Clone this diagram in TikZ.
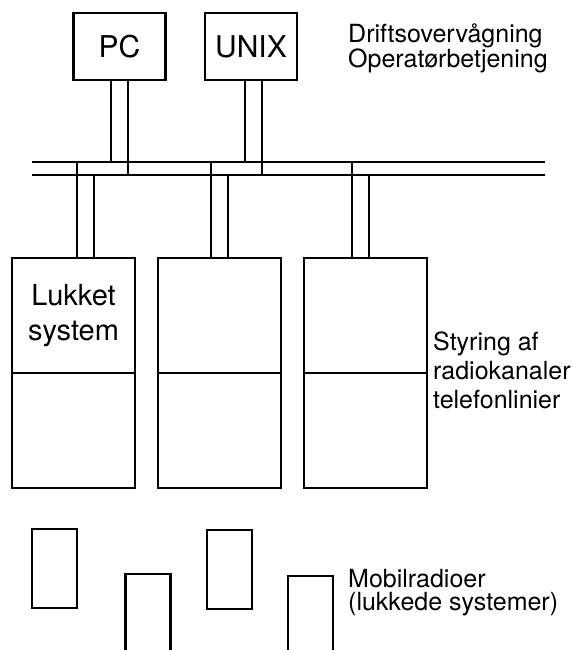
\documentclass[tikz,border=0pt]{standalone}
\usepackage{fontspec}
\setmainfont{TeX Gyre Heros}
\usetikzlibrary{calc}

\begin{document}
\begin{tikzpicture}[x=1pt, y=-1pt,
	box/.style={draw, line width=2.4pt, inner sep=0pt},
	station/.style={box, minimum width=92pt, minimum height=67pt, font=\fontsize{30}{30}\selectfont},
	rack/.style={box, minimum width=123pt, minimum height=230pt},
	mobile/.style={box, minimum width=45pt, minimum height=79pt},
	wire/.style={line width=2.2pt},
	remark/.style={anchor=base west, inner sep=0pt, align=left},
	node distance=146pt,
	]

	\useasboundingbox (0,0) rectangle (573,650);

	\node[station] (pc) at (119.5,46.5) {PC};
	\node[station] (unix) at (251,46.5) {UNIX};

	\node[rack] (rack1) at (73.5,373) {};
	\node[rack, right of=rack1] (rack2) {};
	\node[rack, right of=rack2] (rack3) {};
	\draw[wire] (rack1.west) -- (rack1.east);
	\draw[wire] (rack2.west) -- (rack2.east);
	\draw[wire] (rack3.west) -- (rack3.east);
	\node[align=center, inner sep=0pt, anchor=base, font=\fontsize{29}{35}\selectfont] (closed) at (73.5,340) {Lukket\\system};

	% bus
	\coordinate (bustop) at (32,162);
	\coordinate (busbot) at (32,175);
	\draw[wire] (bustop) -- ++(513,0);
	\draw[wire] (busbot) -- ++(513,0);

	\draw[wire] ([xshift=-8.5pt]pc.south) -- ([xshift=-8.5pt]pc.south |- bustop);
	\draw[wire] ([xshift=8.5pt]pc.south) -- ([xshift=8.5pt]pc.south |- busbot);
	\draw[wire] ([xshift=-6pt]unix.south) -- ([xshift=-6pt]unix.south |- bustop);
	\draw[wire] ([xshift=11pt]unix.south) -- ([xshift=11pt]unix.south |- busbot);

	\foreach \r/\a/\b in {rack1/3.5/20.5, rack2/-8.5/8.5, rack3/-13.5/3.5} {
		\draw[wire] ([xshift=\a pt]\r.north) -- ([xshift=\a pt]\r.north |- bustop);
		\draw[wire] ([xshift=\b pt]\r.north) -- ([xshift=\b pt]\r.north |- busbot);
	}

	% mobile radios
	\node[mobile] (radio1) at (54.5,568.5) {};
	\node[mobile] (radio3) at (229.5,569.5) {};
	\begin{scope}
		\clip (0,0) rectangle (573,650);
		\node[mobile, minimum height=100pt, anchor=north] (radio2) at (148,573) {};
		\node[mobile, minimum height=100pt, anchor=north] (radio4) at (310.5,575) {};
	\end{scope}

	\node[remark, font=\fontsize{25}{23}\selectfont] (ops) at (348,68) {Driftsovervågning\\Operatørbetjening};
	\node[remark, font=\fontsize{25}{29}\selectfont] (control) at (433,408) {Styring af\\radiokanaler\\telefonlinier};
	\node[remark, font=\fontsize{25}{23}\selectfont] (radios) at (348,610) {Mobilradioer\\(lukkede systemer)};

\end{tikzpicture}
\end{document}
